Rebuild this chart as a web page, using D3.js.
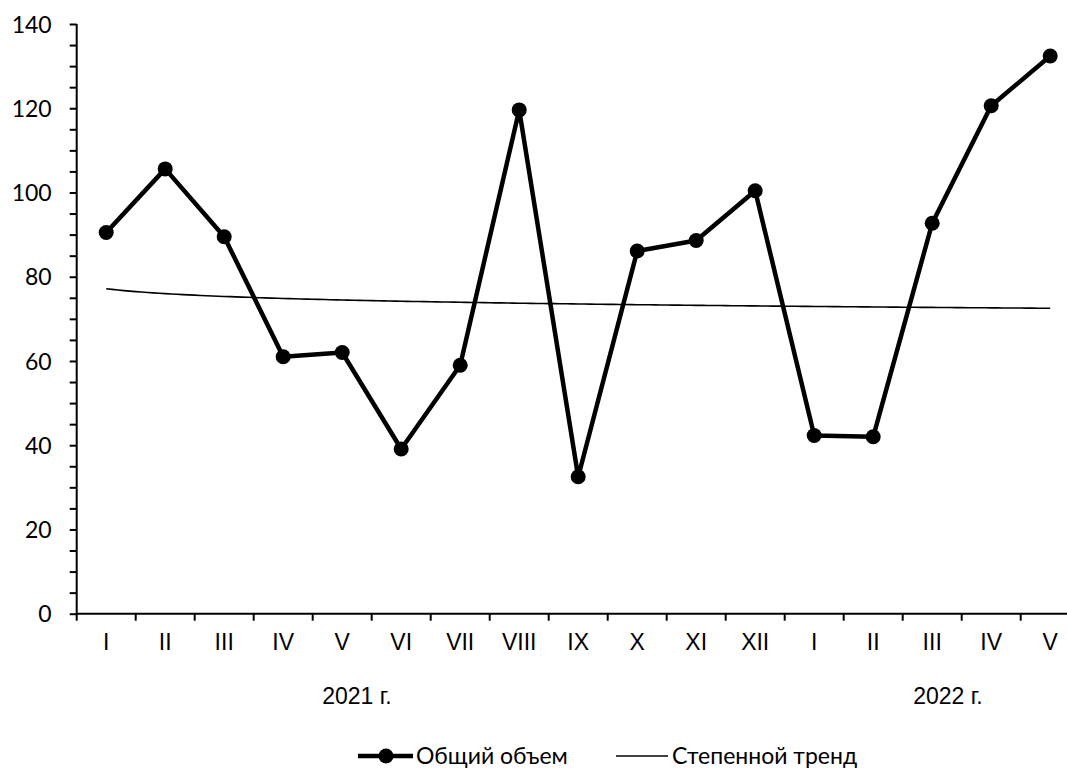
<!DOCTYPE html>
<html>
<head>
<meta charset="utf-8">
<script src="https://cdn.jsdelivr.net/npm/d3@7"></script>
<style>
  html, body { margin: 0; padding: 0; background: #fff; overflow: hidden; }
  svg { display: block; }
</style>
</head>
<body>
<svg id="chart" width="1067" height="769"></svg>
<script>
// ---- Data ----
const categories = ["I","II","III","IV","V","VI","VII","VIII","IX","X","XI","XII","I","II","III","IV","V"];
const totalVolume = [90.5, 105.6, 89.5, 61.0, 62.0, 39.1, 59.0, 119.6, 32.5, 86.1, 88.6, 100.4, 42.3, 42.0, 92.7, 120.6, 132.4];
const yearLabels = ["2021 г.", "2022 г."];
const yTicks = [0, 20, 40, 60, 80, 100, 120, 140];
const seriesNames = ["Общий объем", "Степенной тренд"];

// ---- Layout ----
const svg = d3.select("#chart");
const plotLeft = 76.7, plotRight = 1079.7, plotTop = 24, plotBottom = 613.7;

const x = d3.scaleBand().domain(d3.range(categories.length)).range([plotLeft, plotRight]).paddingInner(0).paddingOuter(0);
const xc = i => x(i) + x.bandwidth() / 2;
const xCont = d3.scaleLinear().domain([1, categories.length]).range([xc(0), xc(categories.length - 1)]);
const y = d3.scaleLinear().domain([0, 140]).range([plotBottom, plotTop]);

const yFont = "Lato, 'Open Sans', sans-serif";
const xFont = "'Liberation Sans', Arial, sans-serif";

// ---- Y axis ----
const yAxis = d3.axisLeft(y).tickValues(d3.range(0, 141, 5)).tickSize(7).tickFormat(d => yTicks.includes(d) ? d : "");
const gy = svg.append("g").attr("transform", `translate(${plotLeft},0)`).call(yAxis);
gy.select(".domain").attr("stroke", "#000").attr("stroke-width", 2).attr("d", `M0,${plotTop}V${plotBottom}`);
gy.selectAll(".tick line").attr("stroke", "#000").attr("stroke-width", 2);
gy.selectAll(".tick text").attr("font-family", yFont).attr("font-size", 23).attr("fill", "#000").attr("x", -25).attr("dy", "0.35em");

// ---- X axis ----
const gx = svg.append("g").attr("transform", `translate(0,${plotBottom})`);
gx.append("line").attr("x1", plotLeft).attr("x2", plotRight).attr("y1", 0).attr("y2", 0).attr("stroke", "#000").attr("stroke-width", 2);
gx.selectAll("line.tk").data(d3.range(categories.length + 1)).join("line").attr("class", "tk")
  .attr("x1", i => i < categories.length ? x(i) : plotRight).attr("x2", i => i < categories.length ? x(i) : plotRight)
  .attr("y1", 0).attr("y2", 7).attr("stroke", "#000").attr("stroke-width", 2);
gx.selectAll("text.cat").data(categories).join("text").attr("class", "cat")
  .attr("x", (d, i) => xc(i)).attr("y", 36.5).attr("text-anchor", "middle")
  .attr("font-family", xFont).attr("font-size", 23).attr("fill", "#000").text(d => d);

// Year labels
const yearPos = [357, 948];
svg.selectAll("text.year").data(yearLabels).join("text").attr("class", "year")
  .attr("x", (d, i) => yearPos[i]).attr("y", 704).attr("text-anchor", "middle")
  .attr("font-family", xFont).attr("font-size", 23).attr("fill", "#000").text(d => d);

// ---- Power trend (least squares on ln-ln, like Excel) ----
const lx = totalVolume.map((v, i) => Math.log(i + 1));
const ly = totalVolume.map(v => Math.log(v));
const mx = d3.mean(lx), my = d3.mean(ly);
const bCoef = d3.sum(lx.map((v, i) => (v - mx) * (ly[i] - my))) / d3.sum(lx.map(v => (v - mx) ** 2));
const aCoef = Math.exp(my - bCoef * mx);
const trendX = d3.range(1, categories.length + 0.001, 0.1);
svg.append("path").datum(trendX)
  .attr("d", d3.line().x(t => xCont(t)).y(t => y(aCoef * Math.pow(t, bCoef))))
  .attr("fill", "none").attr("stroke", "#000").attr("stroke-width", 1.6);

// ---- Main series ----
svg.append("path").datum(totalVolume)
  .attr("d", d3.line().x((d, i) => xc(i)).y(d => y(d)))
  .attr("fill", "none").attr("stroke", "#000").attr("stroke-width", 4.5).attr("stroke-linejoin", "round");
svg.selectAll("circle.pt").data(totalVolume).join("circle").attr("class", "pt")
  .attr("cx", (d, i) => xc(i)).attr("cy", d => y(d)).attr("r", 7.5).attr("fill", "#000");

// ---- Legend ----
const lg = svg.append("g").attr("transform", "translate(0,756)");
lg.append("line").attr("x1", 358).attr("x2", 413).attr("y1", 0).attr("y2", 0).attr("stroke", "#000").attr("stroke-width", 4.5);
lg.append("circle").attr("cx", 386).attr("cy", 0).attr("r", 7.5).attr("fill", "#000");
lg.append("text").attr("x", 416).attr("y", 0).attr("dy", "0.33em").attr("font-family", yFont).attr("font-size", 23).attr("fill", "#000").text(seriesNames[0]);
lg.append("line").attr("x1", 616).attr("x2", 668).attr("y1", 0).attr("y2", 0).attr("stroke", "#000").attr("stroke-width", 1.6);
lg.append("text").attr("x", 672).attr("y", 0).attr("dy", "0.33em").attr("font-family", yFont).attr("font-size", 23).attr("fill", "#000").text(seriesNames[1]);
</script>
</body>
</html>
